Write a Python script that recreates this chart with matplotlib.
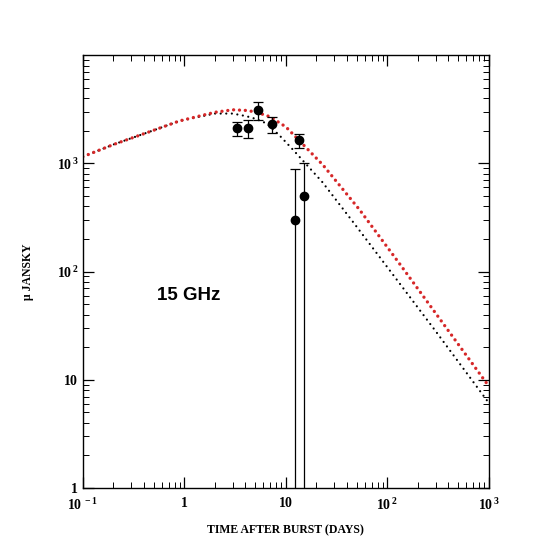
import numpy as np
import matplotlib
matplotlib.use("Agg")
import matplotlib.pyplot as plt
from matplotlib.ticker import FixedLocator, LogLocator, NullFormatter

plt.rcParams['mathtext.fontset'] = 'custom'
plt.rcParams['mathtext.rm'] = 'Liberation Serif:bold'
plt.rcParams['mathtext.bf'] = 'Liberation Serif:bold'

# model curves (days, micro Jansky)
t_red = [0.1, 0.2, 0.5, 0.9, 2, 3, 4, 5, 7, 10, 15, 23.3, 53.6, 132.8, 300, 1000]
f_red = [1150, 1490, 2020, 2465, 2960, 3120, 3080, 2990, 2690, 2170, 1470, 960, 369, 117, 41, 8.7]

t_black = [0.1, 0.2, 0.5, 0.9, 2, 3, 4.1, 5, 6.5, 8.7, 11.8, 14.3, 22.8, 47.1, 119, 300, 1000]
f_black = [1150, 1490, 2020, 2465, 2880, 2880, 2720, 2580, 2330, 1800, 1330, 1090, 673, 278, 88.3, 28, 6.1]

# observations
t_obs = [3.27, 4.2, 5.26, 7.28, 13.4, 12.4, 15.1]
f_obs = [2096, 2096, 3090, 2296, 1634, 298, 497]
f_err = [300, 400, 600, 380, 240, 590, 500]

x_ticks = [0.1, 1, 10, 100, 1000]
x_labels = [r'$10^{\,-1}$', r'$1$', r'$10$', r'$10^{\,2}$', r'$10^{\,3}$']
y_ticks = [1, 10, 100, 1000]
y_labels = [r'$1$', r'$10$', r'$10^{\,2}$', r'$10^{\,3}$']

fig = plt.figure(figsize=(5.45, 5.45), dpi=100)
ax = fig.add_axes([0.152, 0.1046, 0.745, 0.7944])

ax.plot(t_black, f_black, color='black', lw=1.6, linestyle=(0, (0.01, 2.5)),
        dash_capstyle='round')
ax.plot(t_red, f_red, color='#d62728', lw=2.4, linestyle=(0, (0.01, 1.75)),
        dash_capstyle='round')
ax.errorbar(t_obs, f_obs, yerr=f_err, fmt='o', color='black', ms=6,
            elinewidth=0.9, capsize=3.5, capthick=0.9)

ax.set_xscale('log')
ax.set_yscale('log')
ax.set_xlim(0.1, 1000)
ax.set_ylim(1, 1e4)

ax.xaxis.set_major_locator(FixedLocator(x_ticks))
ax.set_xticklabels(x_labels)
ax.yaxis.set_major_locator(FixedLocator(y_ticks))
ax.set_yticklabels(y_labels)
for axis in (ax.xaxis, ax.yaxis):
    axis.set_minor_locator(LogLocator(base=10, subs=np.arange(2, 10), numticks=20))
    axis.set_minor_formatter(NullFormatter())

ax.tick_params(which='both', direction='in', top=True, right=True, labelsize=10)
ax.tick_params(which='major', length=8, width=0.9)
ax.tick_params(which='minor', length=4, width=0.7)
ax.tick_params(axis='x', pad=6)
ax.tick_params(axis='y', pad=3)
for s in ax.spines.values():
    s.set_linewidth(1.0)

ax.set_xlabel('TIME AFTER BURST (DAYS)', family='Liberation Serif',
              fontweight='bold', fontsize=8.5, labelpad=8)
ax.set_ylabel('\u03bc JANSKY', family='Liberation Serif',
              fontweight='bold', fontsize=8.5, labelpad=16)

ax.text(1.1, 60, '15 GHz', family='Liberation Sans', fontweight='bold',
        fontsize=13.5, ha='center', va='center')

fig.savefig('out.png', dpi=100)
